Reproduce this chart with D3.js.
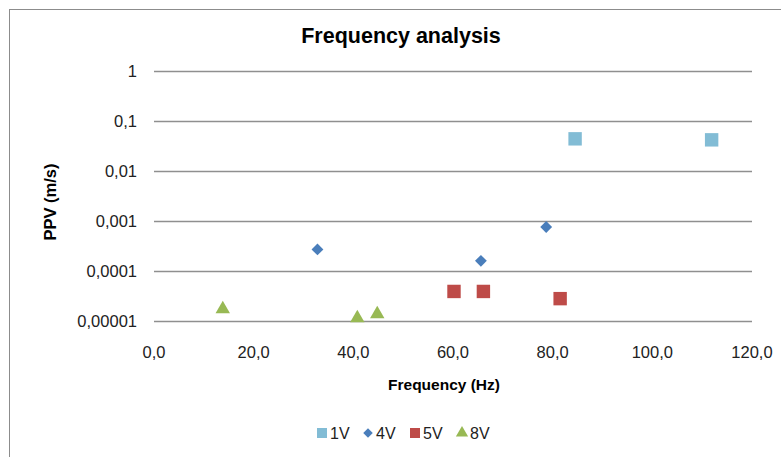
<!DOCTYPE html>
<html>
<head>
<meta charset="utf-8">
<script src="https://cdn.jsdelivr.net/npm/d3@7"></script>
<style>
  body { margin: 0; background: #fff; }
  svg { display: block; }
</style>
</head>
<body>
<svg width="781" height="457"></svg>
<script>
// series values
var series = ["1V", "4V", "5V", "8V"];
var freq1V = [84.5, 111.9];
var ppv1V = [0.044, 0.042];
var freq4V = [32.8, 65.6, 78.7];
var ppv4V = [0.00027, 0.00016, 0.00076];
var freq5V = [60.2, 66.1, 81.5];
var ppv5V = [0.000039, 0.000039, 0.000028];
var freq8V = [13.8, 40.8, 44.8];
var ppv8V = [0.0000173, 0.0000115, 0.0000138];

var xTicks = [0, 20, 40, 60, 80, 100, 120];
var yTicks = [0.00001, 0.0001, 0.001, 0.01, 0.1, 1];
var yTickLabels = ["0,00001", "0,0001", "0,001", "0,01", "0,1", "1"];

var colors = { "1V": "#82bcd5", "4V": "#4a7ebb", "5V": "#be4b48", "8V": "#98b954" };
var shapes = { "1V": d3.symbolSquare, "4V": d3.symbolSquare, "5V": d3.symbolSquare, "8V": d3.symbolTriangle };
var sizes = { "1V": 180, "4V": 70, "5V": 180, "8V": 90 };

var data = [
  { name: "1V", x: freq1V, y: ppv1V },
  { name: "4V", x: freq4V, y: ppv4V },
  { name: "5V", x: freq5V, y: ppv5V },
  { name: "8V", x: freq8V, y: ppv8V }
];

var svg = d3.select("svg");

svg.append("rect")
    .attr("x", 9.5).attr("y", 9.5)
    .attr("width", 800).attr("height", 500)
    .attr("fill", "#fff")
    .attr("stroke", "#8c8c8c");

var x = d3.scaleLinear().domain([0, 120]).range([154, 752]);
var y = d3.scaleLog().domain([0.00001, 1]).range([321, 71]);

var tickFont = "'Liberation Sans', Arial, sans-serif";

// horizontal gridlines
svg.append("g")
  .selectAll("line")
  .data(yTicks)
  .enter().append("line")
    .attr("x1", x(0)).attr("x2", x(120))
    .attr("y1", function(d) { return Math.round(y(d)) + 0.5; })
    .attr("y2", function(d) { return Math.round(y(d)) + 0.5; })
    .attr("stroke", "#8f8f8f")
    .attr("stroke-width", 1.3);

// y tick labels
svg.append("g")
  .selectAll("text")
  .data(yTicks)
  .enter().append("text")
    .attr("x", 137)
    .attr("y", function(d) { return y(d); })
    .attr("dy", "0.35em")
    .attr("text-anchor", "end")
    .style("font-family", tickFont)
    .style("font-size", "16.5px")
    .style("fill", "#222")
    .text(function(d, i) { return yTickLabels[i]; });

// x tick labels
var fmtX = function(d) { return d3.format(".1f")(d).replace(".", ","); };
svg.append("g")
  .selectAll("text")
  .data(xTicks)
  .enter().append("text")
    .attr("x", function(d) { return x(d); })
    .attr("y", 358)
    .attr("text-anchor", "middle")
    .style("font-family", tickFont)
    .style("font-size", "16.5px")
    .style("fill", "#222")
    .text(fmtX);

// title and axis titles
svg.append("text")
    .attr("x", 401).attr("y", 43)
    .attr("text-anchor", "middle")
    .style("font-family", "'Liberation Sans Narrow', 'Liberation Sans', Arial, sans-serif")
    .style("font-weight", "bold")
    .style("font-size", "21.5px")
    .text("Frequency analysis");

svg.append("text")
    .attr("x", 444).attr("y", 390)
    .attr("text-anchor", "middle")
    .style("font-family", "'Liberation Sans', Arial, sans-serif")
    .style("font-weight", "bold")
    .style("font-size", "15.5px")
    .text("Frequency (Hz)");

svg.append("text")
    .attr("transform", "translate(56,202) rotate(-90)")
    .attr("text-anchor", "middle")
    .style("font-family", "'Liberation Sans', Arial, sans-serif")
    .style("font-weight", "bold")
    .style("font-size", "16.5px")
    .text("PPV (m/s)");

// markers
data.forEach(function(s) {
  var sym = d3.symbol().type(shapes[s.name]).size(sizes[s.name]);
  var rot = s.name === "4V" ? " rotate(45)" : "";
  svg.append("g")
    .selectAll("path")
    .data(s.x.map(function(v, i) { return [v, s.y[i]]; }))
    .enter().append("path")
      .attr("transform", function(d) { return "translate(" + x(d[0]) + "," + y(d[1]) + ")" + rot; })
      .attr("d", sym)
      .attr("fill", colors[s.name]);
});

// legend
var legendX = [322, 368, 415, 462];
var legend = svg.append("g")
  .selectAll("g")
  .data(series)
  .enter().append("g")
    .attr("transform", function(d, i) { return "translate(" + legendX[i] + ",433)"; });

legend.append("path")
    .attr("d", function(d) {
      var sz = d === "4V" ? 45 : (d === "8V" ? 65 : 100);
      return d3.symbol().type(shapes[d]).size(sz)();
    })
    .attr("transform", function(d) { return d === "4V" ? "rotate(45)" : null; })
    .attr("fill", function(d) { return colors[d]; });

legend.append("text")
    .attr("x", 8)
    .attr("dy", "0.35em")
    .style("font-family", tickFont)
    .style("font-size", "16px")
    .style("fill", "#222")
    .text(function(d) { return d; });
</script>
</body>
</html>
